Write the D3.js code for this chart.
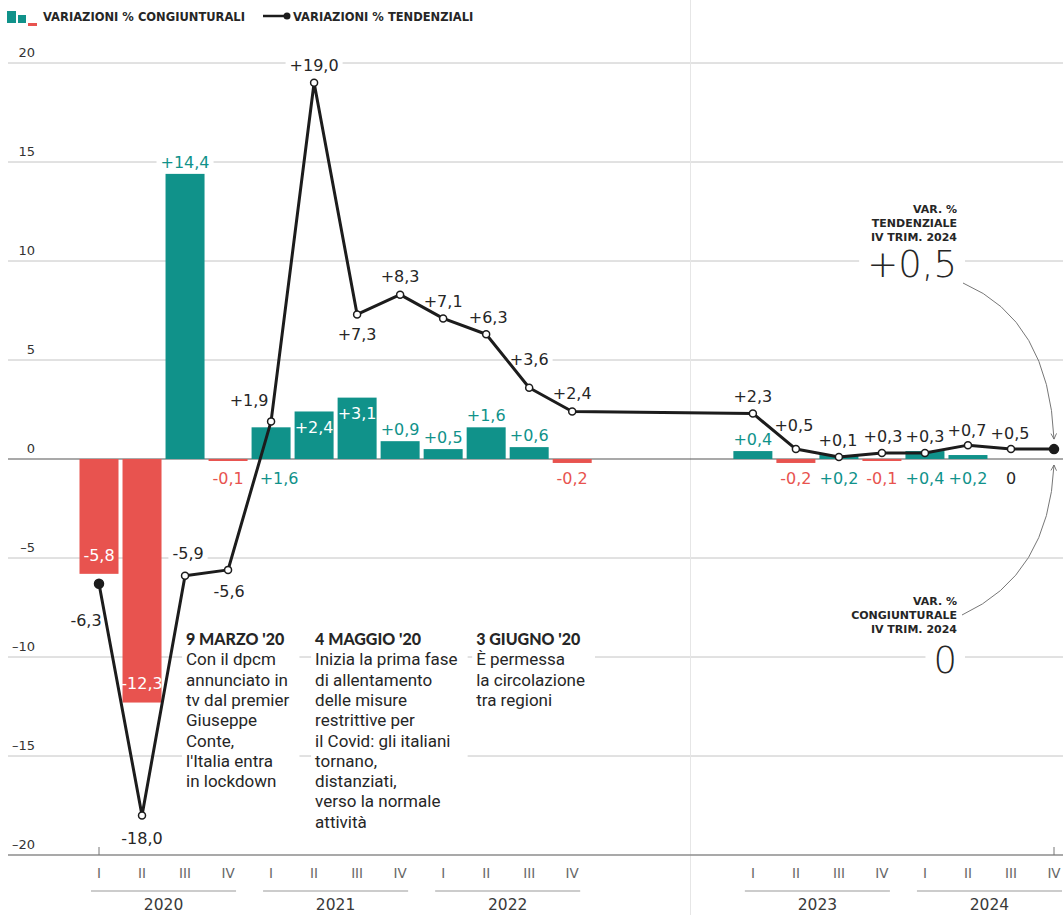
<!DOCTYPE html>
<html>
<head>
<meta charset="utf-8">
<script src="https://cdn.jsdelivr.net/npm/d3@7"></script>
<style>
  body { margin: 0; background: #fff; }
  svg { display: block; }
</style>
</head>
<body>
<svg width="1063" height="915"></svg>
<script>
// dati Istat: variazioni % del PIL trimestrale
const years = ["2020", "2021", "2022", "2023", "2024"];
const quarterNames = ["I", "II", "III", "IV"];
const congiunturali = [-5.8, -12.3, 14.4, -0.1, 1.6, 2.4, 3.1, 0.9, 0.5, 1.6, 0.6, -0.2, 0.4, -0.2, 0.2, -0.1, 0.4, 0.2, 0, 0];
const tendenziali = [-6.3, -18.0, -5.9, -5.6, 1.9, 19.0, 7.3, 8.3, 7.1, 6.3, 3.6, 2.4, 2.3, 0.5, 0.1, 0.3, 0.3, 0.7, 0.5, 0.5];
const yTicks = [20, 15, 10, 5, 0, -5, -10, -15, -20];
const notes = [
  { at: 2, title: "9 MARZO '20", lines: ["Con il dpcm", "annunciato in", "tv dal premier", "Giuseppe", "Conte,", "l'Italia entra", "in lockdown"] },
  { at: 5, title: "4 MAGGIO '20", lines: ["Inizia la prima fase", "di allentamento", "delle misure", "restrittive per", "il Covid: gli italiani", "tornano,", "distanziati,", "verso la normale", "attività"] },
  { at: 8, title: "3 GIUGNO '20", lines: ["È permessa", "la circolazione", "tra regioni"] }
];

// posizione delle etichette (non dati)
const lineLabelOff = [[-13, 36], [0, 23], [3, -23], [1, 21], [-22, -21], [0, -18], [0, 20], [0, -18], [0, -17], [2, -17], [0, -28], [0, -18],
  [0, -17], [-2, -24], [-1, -17], [1, -17], [0, -17], [-1, -15], [-1, -16], null];
const barLabelPos = ["inBottom", "inBottom", "above", "below", "below", "inTop", "inTop", "above", "above", "above", "above", "below",
  "above", "below", "below", "below", "below", "below", "below", null];

const teal = "#10928a", red = "#e8534f", ink = "#262626";
const numFont = "DejaVu Sans";

let svg = d3.select("svg");
let gGrid = svg.append("g"),
  gBg = svg.append("g"),
  gZero = svg.append("g"),
  gBars = svg.append("g"),
  gLine = svg.append("g"),
  gLab = svg.append("g");

const gapSlots = 3.2, breakSlot = 13.75;
let slot = i => i < 12 ? i : i + gapSlots;
let x = d3.scaleLinear().domain([0, 19 + gapSlots]).range([99, 1054]);
let y = d3.scaleLinear().domain([-20, 20]).range([855, 63]);
let X = i => x(slot(i));

let it = d3.formatLocale({ decimal: ",", thousands: ".", grouping: [3], currency: ["€", ""], minus: "-" });
let f1 = it.format(".1f");
let fmt = v => v === 0 ? "0" : (v > 0 ? "+" : "") + f1(v);

// griglia
gGrid.selectAll("line.grid")
  .data(yTicks.filter(t => t !== 0 && t !== -20))
  .enter().append("line")
  .attr("x1", 8).attr("x2", 1063)
  .attr("y1", d => y(d)).attr("y2", d => y(d))
  .attr("stroke", "#c4c4c4").attr("stroke-width", 1);

gGrid.append("line")
  .attr("x1", x(breakSlot)).attr("x2", x(breakSlot))
  .attr("y1", 0).attr("y2", 915)
  .attr("stroke", "#e6e6e6").attr("stroke-width", 1);

gGrid.selectAll("text.tick")
  .data(yTicks)
  .enter().append("text")
  .attr("x", 35).attr("y", d => y(d) - 6)
  .attr("text-anchor", "end")
  .attr("font-family", numFont).attr("font-size", 13)
  .attr("fill", "#333")
  .text(d => d < 0 ? "\u2013" + Math.abs(d) : d);

gZero.append("line")
  .attr("x1", 8).attr("x2", 1063)
  .attr("y1", y(0)).attr("y2", y(0))
  .attr("stroke", "#555").attr("stroke-width", 1.2);

gZero.append("line")
  .attr("x1", 8).attr("x2", 1063)
  .attr("y1", y(-20)).attr("y2", y(-20))
  .attr("stroke", "#8c8c8c").attr("stroke-width", 1.5);

[0, 19].forEach(i => {
  gZero.append("line")
    .attr("x1", X(i)).attr("x2", X(i))
    .attr("y1", y(-20) - 8).attr("y2", y(-20))
    .attr("stroke", "#777").attr("stroke-width", 1);
});

// asse x: trimestri e anni
let quarters = d3.range(20);
gGrid.selectAll("text.q")
  .data(quarters)
  .enter().append("text")
  .attr("x", d => X(d)).attr("y", 878)
  .attr("text-anchor", "middle")
  .attr("font-family", numFont).attr("font-size", 13.5)
  .attr("fill", "#666")
  .text(d => quarterNames[d % 4]);

years.forEach((yr, k) => {
  let a = X(k * 4), b = X(k * 4 + 3);
  gGrid.append("line")
    .attr("x1", a - 8).attr("x2", b + 8)
    .attr("y1", 891).attr("y2", 891)
    .attr("stroke", "#999").attr("stroke-width", 1);
  gGrid.append("text")
    .attr("x", (a + b) / 2).attr("y", 910)
    .attr("text-anchor", "middle")
    .attr("font-family", numFont).attr("font-size", 15.5)
    .attr("fill", "#3a3a3a")
    .text(yr);
});

// barre congiunturali
gBars.selectAll("rect")
  .data(congiunturali)
  .enter().append("rect")
  .attr("x", (d, i) => X(i) - 19.5)
  .attr("width", 39)
  .attr("y", d => y(Math.max(0, d)))
  .attr("height", d => Math.abs(y(d) - y(0)))
  .attr("fill", d => d < 0 ? red : teal);

// linea tendenziale
let line = d3.line().x((d, i) => X(i)).y(d => y(d));
gLine.append("path")
  .datum(tendenziali)
  .attr("d", line)
  .attr("fill", "none")
  .attr("stroke", "#1c1c1c")
  .attr("stroke-width", 3)
  .attr("stroke-linejoin", "round");

gLine.selectAll("circle")
  .data(tendenziali)
  .enter().append("circle")
  .attr("cx", (d, i) => X(i))
  .attr("cy", d => y(d))
  .attr("r", (d, i) => (i === 0 || i === 19) ? 4.5 : 3.5)
  .attr("fill", (d, i) => (i === 0 || i === 19) ? "#1c1c1c" : "#fff")
  .attr("stroke", "#1c1c1c")
  .attr("stroke-width", 1.5);

let addLabel = (txt, cx, cy, color, bg) => {
  let t = gLab.append("text")
    .attr("x", cx).attr("y", cy).attr("dy", "0.36em")
    .attr("text-anchor", "middle")
    .attr("font-family", numFont).attr("font-size", 16)
    .attr("fill", color)
    .text(txt);
  if (bg) {
    let b = t.node().getBBox();
    gBg.append("rect")
      .attr("x", b.x - 4).attr("y", b.y + 1)
      .attr("width", b.width + 8).attr("height", b.height - 2)
      .attr("fill", "#fff");
  }
};

tendenziali.forEach((v, i) => {
  let o = lineLabelOff[i];
  if (!o) return;
  addLabel(fmt(v), X(i) + o[0], y(v) + o[1], ink, true);
});

congiunturali.forEach((v, i) => {
  let p = barLabelPos[i];
  if (!p) return;
  let cx = X(i), cy, col = v > 0 ? teal : v < 0 ? red : ink, bg = true;
  if (p === "above") cy = y(v) - 12;
  if (p === "below") cy = y(0) + 19;
  if (p === "inTop") { cy = y(v) + 16; col = "#fff"; bg = false; }
  if (p === "inBottom") { cy = y(v) - 19; col = "#fff"; bg = false; }
  if (i === 4) cx += 8;
  addLabel(fmt(v), cx, cy, col, bg);
});

// note a piè di grafico
notes.forEach((n, k) => {
  let nx = X(n.at) + (k === 2 ? 33 : 1);
  let t = gLab.append("text")
    .attr("x", nx).attr("y", 645)
    .attr("fill", ink);
  t.append("tspan")
    .attr("x", nx).attr("dy", 0)
    .attr("font-family", "Lato").attr("font-weight", 900).attr("font-size", 16)
    .text(n.title);
  n.lines.forEach(l => {
    t.append("tspan")
      .attr("x", nx).attr("dy", 20.3)
      .attr("font-family", "Roboto").attr("font-size", 17)
      .text(l);
  });
  let b = t.node().getBBox();
  gBg.append("rect")
    .attr("x", b.x - 4).attr("y", b.y - 2)
    .attr("width", b.width + 14).attr("height", b.height + 4)
    .attr("fill", "#fff");
});

// richiami a destra
let callout = (lines, topY, big, bigY) => {
  let t = gLab.append("text").attr("text-anchor", "end").attr("fill", ink)
    .attr("font-family", numFont).attr("font-weight", 700).attr("font-size", 11);
  lines.forEach((l, j) => {
    t.append("tspan").attr("x", 957).attr("y", topY + j * 14).text(l);
  });
  let bt = gLab.append("text")
    .attr("x", 957).attr("y", bigY)
    .attr("text-anchor", "end")
    .attr("font-family", numFont).attr("font-weight", 200).attr("font-size", 37)
    .attr("fill", ink)
    .text(big);
  let b = bt.node().getBBox();
  gBg.append("rect")
    .attr("x", b.x - 8).attr("y", b.y)
    .attr("width", b.width + 16).attr("height", b.height)
    .attr("fill", "#fff");
};
callout(["VAR. %", "TENDENZIALE", "IV TRIM. 2024"], 213, fmt(tendenziali[19]), 277);
callout(["VAR. %", "CONGIUNTURALE", "IV TRIM. 2024"], 605, fmt(congiunturali[19]), 673);

svg.append("defs").append("marker")
  .attr("id", "arr").attr("viewBox", "0 0 10 10")
  .attr("refX", 9).attr("refY", 5)
  .attr("markerWidth", 7).attr("markerHeight", 7)
  .attr("orient", "auto-start-reverse")
  .append("path").attr("d", "M1,1 L9,5 L1,9").attr("fill", "none").attr("stroke", "#666").attr("stroke-width", 1.2);

let endX = X(19), endY = y(tendenziali[19]);
gLab.append("path")
  .attr("d", `M963,283 Q${endX - 5},320 ${endX},${endY - 10}`)
  .attr("fill", "none").attr("stroke", "#777").attr("stroke-width", 1)
  .attr("marker-end", "url(#arr)");
gLab.append("path")
  .attr("d", `M962,615 Q${endX - 5},575 ${endX},${y(0) + 6}`)
  .attr("fill", "none").attr("stroke", "#777").attr("stroke-width", 1)
  .attr("marker-end", "url(#arr)");

// legenda
let lg = svg.append("g");
lg.append("rect").attr("x", 7).attr("y", 11).attr("width", 9).attr("height", 12).attr("fill", teal);
lg.append("rect").attr("x", 18).attr("y", 15).attr("width", 8).attr("height", 8).attr("fill", teal);
lg.append("rect").attr("x", 28).attr("y", 23).attr("width", 9).attr("height", 3).attr("fill", red);
lg.append("text").attr("x", 43).attr("y", 20.5)
  .attr("font-family", numFont).attr("font-weight", 700).attr("font-size", 11.5).attr("fill", ink)
  .text("VARIAZIONI % CONGIUNTURALI");
lg.append("line").attr("x1", 263).attr("x2", 287).attr("y1", 16).attr("y2", 16)
  .attr("stroke", "#1c1c1c").attr("stroke-width", 2.5);
lg.append("circle").attr("cx", 287).attr("cy", 16).attr("r", 3.5).attr("fill", "#1c1c1c");
lg.append("text").attr("x", 293).attr("y", 20.5)
  .attr("font-family", numFont).attr("font-weight", 700).attr("font-size", 11.5).attr("fill", ink)
  .text("VARIAZIONI % TENDENZIALI");
</script>
</body>
</html>
